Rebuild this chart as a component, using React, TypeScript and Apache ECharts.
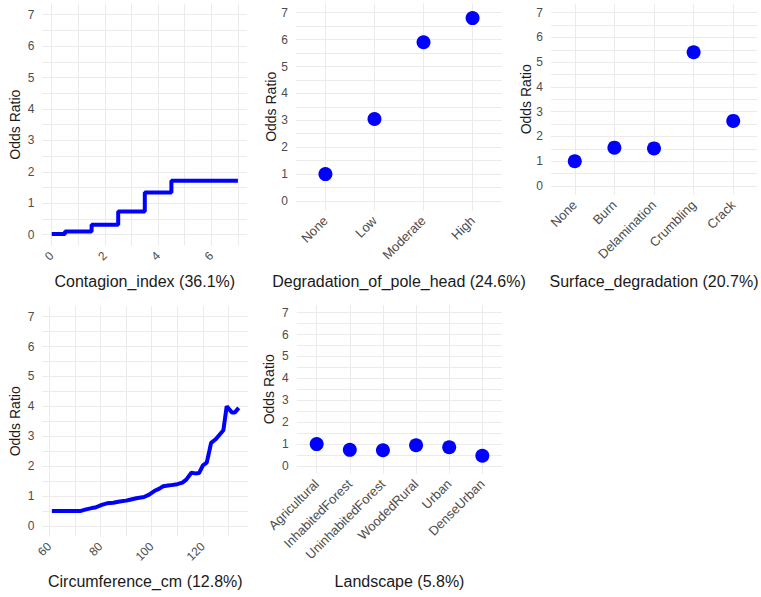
import React, { useEffect, useRef } from "react";
import * as echarts from "echarts";

// Partial-dependence style odds ratios for each predictor
const contagionIndex = [0, 1, 2, 3, 4, 5, 6, 7];
const contagionOdds = [0.02, 0.1, 0.32, 0.74, 1.34, 1.72, 1.72, 1.72];

const poleHeadLevels = ["None", "Low", "Moderate", "High"];
const poleHeadOdds = [1.0, 3.05, 5.9, 6.8];

const surfaceLevels = ["None", "Burn", "Delamination", "Crumbling", "Crack"];
const surfaceOdds = [1.0, 1.55, 1.52, 5.4, 2.63];

const circumferenceCm = [
  61, 64, 68, 72, 74, 76.5, 78, 80.5, 82.5, 85, 87.5, 90, 91.5, 94, 97, 99, 101,
  103, 104.5, 107, 110, 112, 113.5, 115.5, 117, 118.5, 120, 121.5, 122.5, 123.2,
  125, 126.5, 128, 129.3, 131.3, 132.5, 134,
];
const circumferenceOdds = [
  0.5, 0.5, 0.5, 0.5, 0.55, 0.6, 0.62, 0.71, 0.76, 0.78, 0.82, 0.85, 0.88, 0.93,
  0.97, 1.05, 1.17, 1.25, 1.33, 1.36, 1.4, 1.45, 1.55, 1.78, 1.76, 1.77, 2.03,
  2.12, 2.5, 2.78, 2.9, 3.05, 3.2, 4.0, 3.8, 3.8, 3.95,
];

const landscapeLevels = [
  "Agricultural",
  "InhabitedForest",
  "UninhabitedForest",
  "WoodedRural",
  "Urban",
  "DenseUrban",
];
const landscapeOdds = [1.0, 0.74, 0.72, 0.95, 0.86, 0.47];

const panelTitles = [
  "Contagion_index (36.1%)",
  "Degradation_of_pole_head (24.6%)",
  "Surface_degradation (20.7%)",
  "Circumference_cm (12.8%)",
  "Landscape (5.8%)",
];

const oddsTicks = [0, 1, 2, 3, 4, 5, 6, 7];
const oddsGridLines = [0, 0.5, 1, 1.5, 2, 2.5, 3, 3.5, 4, 4.5, 5, 5.5, 6, 6.5, 7];
const contagionTicks = [0, 2, 4, 6];
const contagionGridLines = [0, 1, 2, 3, 4, 5, 6, 7];
const circumferenceTicks = [60, 80, 100, 120];
const circumferenceGridLines = [60, 70, 80, 90, 100, 110, 120, 130];

const FONT = "'Liberation Sans', Arial, sans-serif";
const GRID_COLOR = "#ebebeb";
const BLUE = "#0000ff";

const positions = (levels: string[]) => levels.map((_, i) => i + 1);

function yAxisFor(gridIndex: number, nameGap: number) {
  return {
    type: "value",
    gridIndex,
    min: -0.35,
    max: 7.35,
    name: "Odds Ratio",
    nameLocation: "middle",
    nameGap,
    nameMoveOverlap: false,
    nameTextStyle: { fontFamily: FONT, fontSize: 14, color: "#1a1a1a" },
    axisLine: { show: false },
    axisTick: { show: false, customValues: oddsGridLines },
    axisLabel: {
      customValues: oddsTicks,
      fontFamily: FONT,
      fontSize: 12,
      color: "#4d4d4d",
      margin: 8,
    },
    splitLine: { show: true, lineStyle: { color: GRID_COLOR, width: 1 } },
  };
}

function xAxisFor(
  gridIndex: number,
  min: number,
  max: number,
  gridLines: number[],
  labels: number[],
  nameGap: number,
  formatter?: (v: number) => string,
  labelSize = 12
) {
  return {
    type: "value",
    gridIndex,
    min,
    max,
    name: panelTitles[gridIndex],
    nameLocation: "middle",
    nameGap,
    nameMoveOverlap: false,
    nameTextStyle: { fontFamily: FONT, fontSize: 16, color: "#1a1a1a" },
    axisLine: { show: false },
    axisTick: { show: false, customValues: gridLines },
    axisLabel: {
      customValues: labels,
      rotate: 45,
      fontFamily: FONT,
      fontSize: labelSize,
      color: "#4d4d4d",
      margin: 8,
      formatter: formatter ?? ((v: number) => String(v)),
    },
    splitLine: { show: true, lineStyle: { color: GRID_COLOR, width: 1 } },
  };
}

const levelName = (levels: string[]) => (v: number) => levels[Math.round(v) - 1] ?? "";

const pointStyle = { color: BLUE, opacity: 1 };

export default function App() {
  const ref = useRef<HTMLDivElement>(null);

  useEffect(() => {
    if (!ref.current) return;
    const chart = echarts.init(ref.current, null, { renderer: "svg" });

    const option = {
      animation: false,
      backgroundColor: "#ffffff",
      grid: [
        { left: 42.4, top: 3.7, width: 204.8, height: 242, outerBoundsMode: "none" },
        { left: 296, top: 3.3, width: 206, height: 207.1, outerBoundsMode: "none" },
        { left: 551, top: 4, width: 206, height: 190.7, outerBoundsMode: "none" },
        { left: 42.4, top: 306.2, width: 205.8, height: 230.3, outerBoundsMode: "none" },
        { left: 296.8, top: 305, width: 205.4, height: 168.7, outerBoundsMode: "none" },
      ],
      xAxis: [
        xAxisFor(0, -0.35, 7.35, contagionGridLines, contagionTicks, 28),
        xAxisFor(
          1,
          0.4,
          poleHeadLevels.length + 0.6,
          positions(poleHeadLevels),
          positions(poleHeadLevels),
          63,
          levelName(poleHeadLevels),
          13
        ),
        xAxisFor(
          2,
          0.4,
          surfaceLevels.length + 0.6,
          positions(surfaceLevels),
          positions(surfaceLevels),
          79,
          levelName(surfaceLevels),
          13
        ),
        xAxisFor(3, 57.3, 137.7, circumferenceGridLines, circumferenceTicks, 37),
        xAxisFor(
          4,
          0.4,
          landscapeLevels.length + 0.6,
          positions(landscapeLevels),
          positions(landscapeLevels),
          100,
          levelName(landscapeLevels),
          13
        ),
      ],
      yAxis: [yAxisFor(0, 20), yAxisFor(1, 18.5), yAxisFor(2, 18.5), yAxisFor(3, 20), yAxisFor(4, 21)],
      series: [
        {
          type: "line",
          xAxisIndex: 0,
          yAxisIndex: 0,
          step: "middle",
          showSymbol: false,
          lineStyle: { color: BLUE, width: 4 },
          data: contagionIndex.map((x, i) => [x, contagionOdds[i]]),
        },
        {
          type: "scatter",
          xAxisIndex: 1,
          yAxisIndex: 1,
          symbolSize: 14,
          itemStyle: pointStyle,
          data: poleHeadOdds.map((v, i) => [i + 1, v]),
        },
        {
          type: "scatter",
          xAxisIndex: 2,
          yAxisIndex: 2,
          symbolSize: 14,
          itemStyle: pointStyle,
          data: surfaceOdds.map((v, i) => [i + 1, v]),
        },
        {
          type: "line",
          xAxisIndex: 3,
          yAxisIndex: 3,
          showSymbol: false,
          lineStyle: { color: BLUE, width: 4 },
          data: circumferenceCm.map((x, i) => [x, circumferenceOdds[i]]),
        },
        {
          type: "scatter",
          xAxisIndex: 4,
          yAxisIndex: 4,
          symbolSize: 14,
          itemStyle: pointStyle,
          data: landscapeOdds.map((v, i) => [i + 1, v]),
        },
      ],
    };

    chart.setOption(option as any);
    return () => chart.dispose();
  }, []);

  return (
    <div
      ref={ref}
      style={{ position: "absolute", left: 0, top: 0, width: 761, height: 597, background: "#fff" }}
    />
  );
}
